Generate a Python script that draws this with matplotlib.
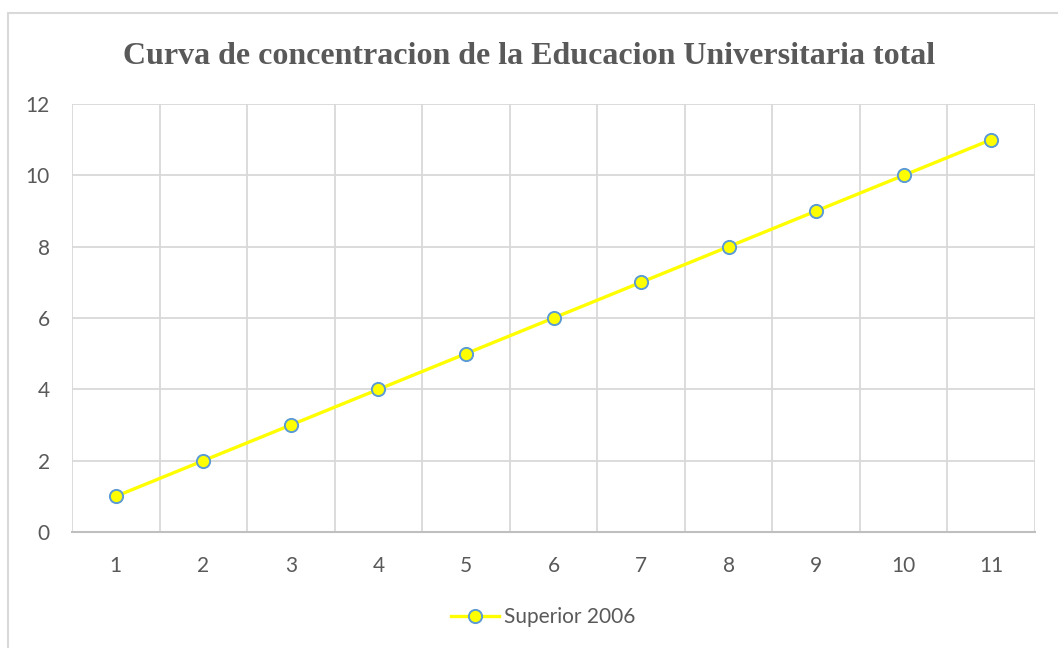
import numpy as np
import matplotlib.pyplot as plt
from matplotlib.patches import Rectangle

# datos de la serie
categorias = list(range(1, 12))
superior_2006 = [1, 2, 3, 4, 5, 6, 7, 8, 9, 10, 11]
y_ticks = [0, 2, 4, 6, 8, 10, 12]

fig = plt.figure(figsize=(10.58, 6.48), dpi=100)
ax = fig.add_axes([72 / 1058, 1 - 532 / 648, (1035 - 72) / 1058, (532 - 104) / 648])

# borde del grafico (estilo Excel)
fig.patches.append(Rectangle((8 / 1058, -0.1), 1.2, 1 - 13 / 648 + 0.1,
                             transform=fig.transFigure, fill=False,
                             edgecolor='#D9D9D9', linewidth=1.5))

ax.plot(categorias, superior_2006, color='#FFFF00', linewidth=2.4,
        marker='o', markersize=9.5, markerfacecolor='#FFFF00',
        markeredgecolor='#5B9BD5', markeredgewidth=1.4,
        label='Superior 2006', zorder=3)

ax.set_xlim(0.5, 11.5)
ax.set_ylim(0, 12)
ax.set_yticks(y_ticks)
ax.set_xticks(categorias)
ax.set_xticks(np.arange(0.5, 12, 1), minor=True)
ax.tick_params(which='both', length=0)
ax.tick_params(axis='x', pad=17)
ax.tick_params(axis='y', pad=16)
for lab in ax.get_xticklabels() + ax.get_yticklabels():
    lab.set_fontfamily('Lato')
    lab.set_fontsize(15)
    lab.set_color('#595959')

ax.grid(True, axis='y', color='#D9D9D9', linewidth=1.3)
ax.grid(True, axis='x', which='minor', color='#D9D9D9', linewidth=1.3)
ax.grid(False, axis='x', which='major')
for s in ['top', 'right', 'left']:
    ax.spines[s].set_visible(False)
ax.spines['bottom'].set_color('#BFBFBF')
ax.spines['bottom'].set_linewidth(1.5)
ax.set_axisbelow(True)

fig.text(0.5, 1 - 56 / 648, 'Curva de concentracion de la Educacion Universitaria total',
         ha='center', va='center', fontfamily='Liberation Serif',
         fontweight='bold', fontsize=23, color='#595959')

leg = fig.legend(loc='center', bbox_to_anchor=(543 / 1058, 1 - 617 / 648),
                 frameon=False, prop={'family': 'Lato', 'size': 15},
                 handlelength=2.3, handletextpad=0.25)
for t in leg.get_texts():
    t.set_color('#595959')

fig.savefig('out.png', dpi=100)
